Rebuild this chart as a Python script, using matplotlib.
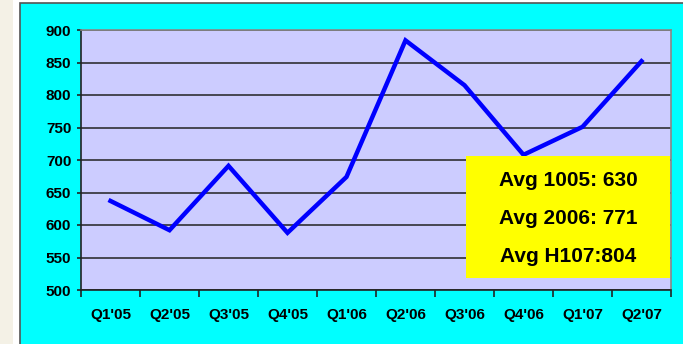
import matplotlib.pyplot as plt
from matplotlib.patches import Rectangle
import numpy as np

quarters = ["Q1'05", "Q2'05", "Q3'05", "Q4'05", "Q1'06",
            "Q2'06", "Q3'06", "Q4'06", "Q1'07", "Q2'07"]
values = [637, 592, 691, 588, 674, 884, 815, 708, 751, 852]
avg_lines = ["Avg 1005: 630", "Avg 2006: 771", "Avg H107:804"]

W, H = 683, 344
fig = plt.figure(figsize=(W / 100, H / 100), dpi=100)
fig.patch.set_facecolor('white')

# page strip on the left and the cyan chart area
fig.patches.append(Rectangle((0, 0), 13 / W, 1, transform=fig.transFigure,
                             facecolor='#f4f1e6', edgecolor='none', zorder=-2))
fig.patches.append(Rectangle((20 / W, -0.01), 1, (H - 3) / H + 0.01,
                             transform=fig.transFigure, facecolor='#00ffff',
                             edgecolor='#555555', linewidth=1.2, zorder=-1))

ax = fig.add_axes([81 / W, (H - 290) / H, (671 - 81) / W, 260 / H])
ax.set_zorder(1)
ax.set_facecolor('#ccccff')

x = np.arange(len(quarters))
ax.plot(x, values, color='#0000ff', linewidth=3.2, solid_joinstyle='miter', zorder=3)

ax.set_xlim(-0.5, len(quarters) - 0.5)
ax.set_ylim(500, 900)
ax.set_yticks(range(500, 901, 50))
ax.yaxis.grid(True, color='#222222', linewidth=1.1)
ax.set_axisbelow(True)

ax.set_xticks(x)
ax.set_xticklabels(quarters)
ax.set_xticks(np.arange(-0.5, len(quarters), 1), minor=True)
ax.tick_params(axis='x', which='major', length=0, pad=13)
ax.tick_params(axis='x', which='minor', length=5, width=1.2, color='#222222')
ax.tick_params(axis='y', length=3, width=1.2, color='#222222', pad=4)
for lab in ax.get_xticklabels() + ax.get_yticklabels():
    lab.set_fontfamily('Liberation Sans')
    lab.set_fontweight('bold')
    lab.set_fontsize(11)

for side in ['left', 'bottom']:
    ax.spines[side].set_color('#222222')
    ax.spines[side].set_linewidth(1.2)
for side in ['top', 'right']:
    ax.spines[side].set_color('#888888')
    ax.spines[side].set_linewidth(1.2)

# yellow summary box
x0, x1 = 466 / W, 670 / W
y0, y1 = (H - 278) / H, (H - 156) / H
fig.patches.append(Rectangle((x0, y0), x1 - x0, y1 - y0, transform=fig.transFigure,
                             facecolor='#ffff00', edgecolor='none', zorder=5))
for i, line in enumerate(avg_lines):
    fig.text(568 / W, (H - (180 + 38 * i)) / H, line, ha='center', va='center',
             fontsize=15, fontweight='bold', family='Liberation Sans', zorder=6)

fig.savefig('out.png', dpi=100)
